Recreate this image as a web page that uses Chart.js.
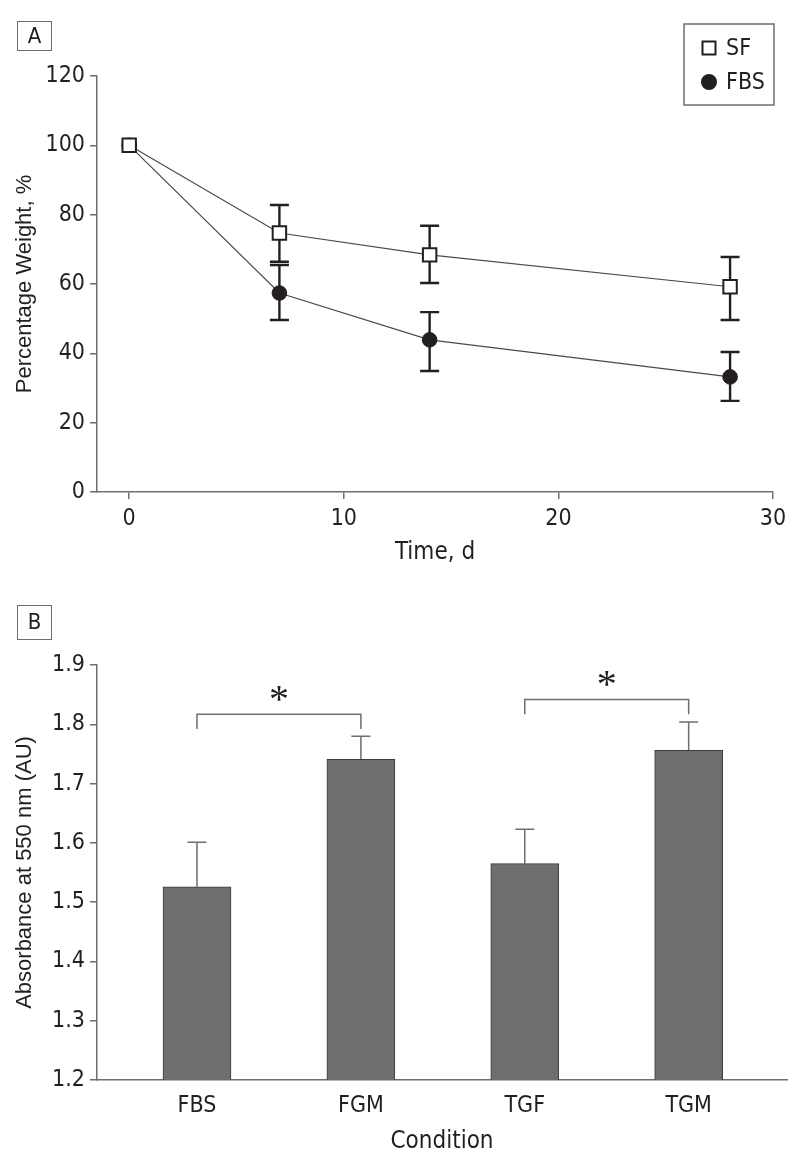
<!DOCTYPE html>
<html>
<head>
<meta charset="utf-8">
<script src="https://cdn.jsdelivr.net/npm/chart.js@4.4.0/dist/chart.umd.min.js"></script>
<style>
  body { margin: 0; background: #fff; }
  #wrap { position: relative; width: 800px; height: 1167px; }
  canvas { position: absolute; left: 0; }
  #chartA { top: 0; }
  #chartB { top: 580px; }
  .panel {
    position: absolute; left: 17px; width: 35px;
    border: 1.5px solid #6d6e70; box-sizing: border-box;
    text-align: center; font-size: 22px; color: #231f20;
  }
</style>
</head>
<body>
<div id="wrap">
  <canvas id="chartA" width="800" height="580"></canvas>
  <canvas id="chartB" width="800" height="587"></canvas>
  <div class="panel" id="labelA" style="top:21px;height:30px;line-height:27px">A</div>
  <div class="panel" id="labelB" style="top:605px;height:35px;line-height:32px">B</div>
</div>
<script>
// panel A: weight over time
const days = [0, 7, 14, 28];
const sfWeight = [100, 74.7, 68.4, 59.2];
const sfLow = [null, 66.4, 60.3, 49.6];
const sfHigh = [null, 82.8, 76.8, 67.8];
const fbsWeight = [100, 57.4, 43.9, 33.2];
const fbsLow = [null, 49.6, 34.9, 26.3];
const fbsHigh = [null, 65.5, 51.9, 40.4];
const timeTicks = [0, 10, 20, 30];

// panel B: absorbance by condition
const conditions = ["FBS", "FGM", "TGF", "TGM"];
const absorbance = [1.526, 1.741, 1.565, 1.756];
const absorbanceHigh = [1.601, 1.780, 1.623, 1.804];
const brackets = [[0, 1], [2, 3]];
const bracketLevel = [1.817, 1.842];
const bracketDrop = 0.025;

const ink = "#231f20";
const axisGray = "#6d6e70";

// pick a condensed face if one is installed
function hasFont(name) {
    const c = document.createElement("canvas").getContext("2d");
    const s = "Percentage Weight 0123456789";
    c.font = "40px monospace";
    const w1 = c.measureText(s).width;
    c.font = `40px "${name}", monospace`;
    return c.measureText(s).width !== w1;
}
const narrow = ["Liberation Sans Narrow", "DejaVu Sans Condensed", "Roboto Condensed"].find(hasFont) || "Roboto";
const regular = "Liberation Sans";
document.querySelectorAll(".panel").forEach(el => el.style.fontFamily = `"${narrow}"`);

const tickFont = { family: narrow, size: 23 };
const titleFont = { family: narrow, size: 24 };
const yTitleFont = { family: regular, size: 22 };

const errorBars = {
    id: "errorBars",
    beforeDatasetsDraw(chart, args, opts) {
        const ctx = chart.ctx;
        const xs = chart.scales.x, ys = chart.scales.y;
        ctx.save();
        ctx.strokeStyle = opts.color;
        ctx.lineWidth = opts.width;
        chart.data.datasets.forEach(ds => {
            if (!ds.errHigh) return;
            ds.data.forEach((p, i) => {
                if (ds.errHigh[i] == null) return;
                const px = xs.getPixelForValue(p.x);
                const top = ys.getPixelForValue(ds.errHigh[i]);
                const bot = ys.getPixelForValue(ds.errLow ? ds.errLow[i] : p.y);
                ctx.beginPath();
                ctx.moveTo(px, top);
                ctx.lineTo(px, bot);
                ctx.moveTo(px - opts.cap, top);
                ctx.lineTo(px + opts.cap, top);
                if (ds.errLow) {
                    ctx.moveTo(px - opts.cap, bot);
                    ctx.lineTo(px + opts.cap, bot);
                }
                ctx.stroke();
            });
        });
        ctx.restore();
    }
};

const boxLegend = {
    id: "boxLegend",
    afterDraw(chart, args, opts) {
        const ctx = chart.ctx;
        ctx.save();
        ctx.strokeStyle = axisGray;
        ctx.lineWidth = 1.5;
        ctx.strokeRect(opts.left, opts.top, opts.width, opts.height);
        ctx.font = `23px "${narrow}"`;
        ctx.textBaseline = "middle";
        chart.data.datasets.forEach((ds, i) => {
            const cx = opts.left + 25;
            const cy = opts.top + 24 + i * 34;
            ctx.lineWidth = 2;
            ctx.strokeStyle = ink;
            ctx.fillStyle = ds.pointBackgroundColor;
            ctx.beginPath();
            if (ds.pointStyle === "rect") {
                ctx.rect(cx - 6.5, cy - 6.5, 13, 13);
            } else {
                ctx.arc(cx, cy, 7, 0, Math.PI * 2);
            }
            ctx.fill();
            ctx.stroke();
            ctx.fillStyle = ink;
            ctx.fillText(ds.label, opts.left + 42, cy + 1);
        });
        ctx.restore();
    }
};

const sigBrackets = {
    id: "sigBrackets",
    afterDatasetsDraw(chart) {
        const ctx = chart.ctx;
        const xs = chart.scales.x, ys = chart.scales.y;
        ctx.save();
        ctx.strokeStyle = axisGray;
        ctx.lineWidth = 1.5;
        ctx.fillStyle = ink;
        ctx.font = `40px "Liberation Serif"`;
        ctx.textAlign = "center";
        ctx.textBaseline = "alphabetic";
        const m = ctx.measureText("*");
        const mid = (m.actualBoundingBoxAscent - m.actualBoundingBoxDescent) / 2;
        brackets.forEach(([a, b], i) => {
            const x1 = xs.getPixelForValue(a);
            const x2 = xs.getPixelForValue(b);
            const yTop = ys.getPixelForValue(bracketLevel[i]);
            const yEnd = ys.getPixelForValue(bracketLevel[i] - bracketDrop);
            ctx.beginPath();
            ctx.moveTo(x1, yEnd);
            ctx.lineTo(x1, yTop);
            ctx.lineTo(x2, yTop);
            ctx.lineTo(x2, yEnd);
            ctx.stroke();
            ctx.fillText("*", (x1 + x2) / 2, yTop - 21 + mid);
        });
        ctx.restore();
    }
};

function axisStyle() {
    return {
        grid: { drawOnChartArea: false, tickLength: 7, color: axisGray, lineWidth: 1.5 },
        border: { color: axisGray, width: 1.5 }
    };
}

new Chart(document.getElementById("chartA"), {
    type: "line",
    data: {
        datasets: [
            {
                label: "SF",
                data: days.map((d, i) => ({ x: d, y: sfWeight[i] })),
                errLow: sfLow,
                errHigh: sfHigh,
                pointStyle: "rect",
                pointRadius: 9.5,
                pointBackgroundColor: "#fff",
                pointBorderColor: ink,
                pointBorderWidth: 2,
                borderColor: "#4a4a4a",
                borderWidth: 1.2
            },
            {
                label: "FBS",
                data: days.map((d, i) => ({ x: d, y: fbsWeight[i] })),
                errLow: fbsLow,
                errHigh: fbsHigh,
                pointStyle: "circle",
                pointRadius: 7.3,
                pointBackgroundColor: ink,
                pointBorderColor: ink,
                pointBorderWidth: 1,
                borderColor: "#4a4a4a",
                borderWidth: 1.2
            }
        ]
    },
    options: {
        responsive: false,
        animation: false,
        events: [],
        layout: { padding: { top: 76, right: 27 } },
        plugins: {
            legend: { display: false },
            tooltip: { enabled: false },
            errorBars: { color: ink, width: 2.4, cap: 9.5 },
            boxLegend: { left: 684, top: 24, width: 90, height: 81 }
        },
        scales: {
            x: {
                type: "linear",
                min: -1.5,
                max: 30,
                afterBuildTicks: s => { s.ticks = timeTicks.map(v => ({ value: v })); },
                afterFit: s => { s.height = 88; },
                ...axisStyle(),
                ticks: { font: tickFont, color: ink, padding: 6 },
                title: { display: true, text: "Time, d", font: titleFont, color: ink, padding: 13 }
            },
            y: {
                min: 0,
                max: 120,
                afterFit: s => { s.width = 97; },
                ...axisStyle(),
                ticks: { stepSize: 20, font: tickFont, color: ink, padding: 5 },
                title: { display: true, text: "Percentage Weight, %", font: yTitleFont, color: ink, padding: 12 }
            }
        }
    },
    plugins: [errorBars, boxLegend]
});

new Chart(document.getElementById("chartB"), {
    type: "bar",
    data: {
        datasets: [{
            label: "Absorbance",
            data: conditions.map((c, i) => ({ x: i, y: absorbance[i] })),
            errHigh: absorbanceHigh,
            backgroundColor: "#6d6e70",
            borderColor: "#3c3c3e",
            borderWidth: 1,
            barThickness: 68
        }]
    },
    options: {
        responsive: false,
        animation: false,
        events: [],
        layout: { padding: { top: 85, right: 13 } },
        plugins: {
            legend: { display: false },
            tooltip: { enabled: false },
            errorBars: { color: axisGray, width: 1.5, cap: 9.5 }
        },
        scales: {
            x: {
                type: "linear",
                offset: false,
                min: -0.61,
                max: 3.6,
                afterBuildTicks: s => { s.ticks = conditions.map((c, i) => ({ value: i })); },
                afterFit: s => { s.height = 87; },
                grid: { display: false },
                border: { color: axisGray, width: 1.5 },
                ticks: { font: tickFont, color: ink, padding: 4, callback: v => conditions[v] },
                title: { display: true, text: "Condition", font: titleFont, color: ink, padding: 11 }
            },
            y: {
                min: 1.2,
                max: 1.9,
                afterFit: s => { s.width = 97; },
                ...axisStyle(),
                ticks: { stepSize: 0.1, font: tickFont, color: ink, padding: 5, callback: v => v.toFixed(1) },
                title: { display: true, text: "Absorbance at 550 nm (AU)", font: yTitleFont, color: ink, padding: 12 }
            }
        }
    },
    plugins: [errorBars, sigBrackets]
});
</script>
</body>
</html>
